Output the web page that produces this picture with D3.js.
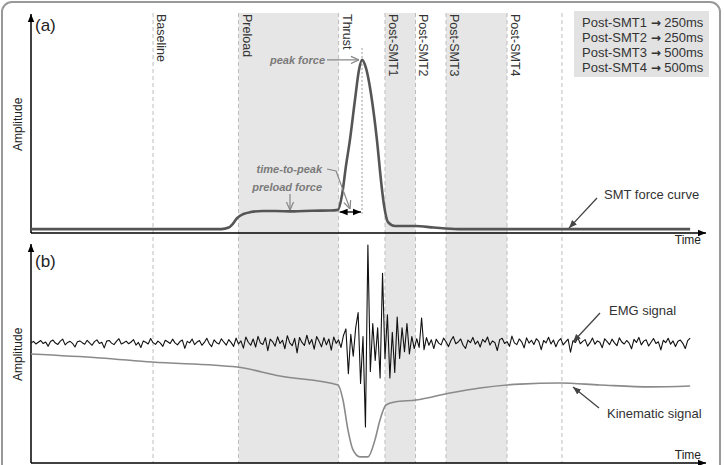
<!DOCTYPE html>
<html>
<head>
<meta charset="utf-8">
<script src="https://cdn.jsdelivr.net/npm/d3@7"></script>
<style>
  body { margin: 0; background: #fff; }
  svg { display: block; font-family: "Liberation Sans", Arial, sans-serif; }
</style>
</head>
<body>
<svg id="chart"></svg>
<script>
const width = 724, height = 465;

// phases of the trial, start time in ms
const phaseNames = ["Baseline", "Preload", "Thrust", "Post-SMT1", "Post-SMT2", "Post-SMT3", "Post-SMT4"];
const phaseStart = [1000, 1700, 2520, 2900, 3150, 3400, 3900];
const phaseEnd = 4350;
const shadedPhases = ["Preload", "Post-SMT1", "Post-SMT3"];

const legendNames = ["Post-SMT1", "Post-SMT2", "Post-SMT3", "Post-SMT4"];
const legendDurations = ["250ms", "250ms", "500ms", "500ms"];

// (a) SMT force curve
const forceTime  = [0, 1560, 1620, 1650, 1690, 1740, 1800, 1900, 2000, 2150, 2300, 2450, 2515, 2548, 2581, 2613, 2654, 2687, 2712, 2744, 2793, 2834, 2867, 2892, 2925, 2982, 3150, 3300, 3500, 5400];
const forceValue = [1.8, 1.8, 2.5, 4, 6.9, 8.7, 9.6, 10.1, 10.1, 9.9, 10.2, 10.3, 10.6, 17.4, 31, 42.7, 61, 74.8, 79.4, 75.7, 61, 42.7, 24.3, 12.8, 5, 3.2, 3.2, 2.5, 1.8, 1.8];
const peakTime = 2712, peakValue = 79.4, preloadValue = 10.1;

// (b) kinematic signal
const kinTime  = [0, 565, 991, 1688, 2040, 2515, 2556, 2597, 2638, 2695, 2761, 2818, 2859, 2908, 2982, 3154, 3432, 3678, 4006, 4334, 4661, 5071, 5400];
const kinValue = [50, 48.2, 46.3, 44, 39.9, 35.8, 28.9, 15.1, 6, 2.8, 2.8, 10.6, 19.7, 26.6, 28, 28.9, 32.1, 34.4, 36.2, 36.7, 35.8, 34.9, 35.3];

// (b) EMG signal, one sample every 20 ms
const emgStep = 20;
const emgValue = [
  55,55.8,54.6,55.4,56.2,54.8,55.5,53.6,55.7,56.4,55,54.4,55.9,56.8,54.2,55.3,55.8,54.9,53.2,55.6,
  56,55.2,54.5,56.3,55.1,54,55.7,56.5,54.8,55.4,52.8,55.9,56.2,55,54.3,55.8,57,54.6,55.2,55.9,
  54.7,55.5,56.6,54.1,55.3,53,56,55.4,54.6,57.1,55.2,54.4,55.9,55,53.5,56.3,55.6,54.8,56.8,55.1,
  54.2,55.7,56.4,52.6,55.8,55.1,56.9,54.3,55.5,56.2,54,55.3,57.2,54.8,53.4,56.5,55.2,54.6,57,55.4,
  54.1,56.6,55.2,53.5,57.3,54.6,56,52.7,57.8,55.4,54,56.9,53.2,58.1,55,54.4,57.5,51.5,56.8,55.6,
  53.6,57.9,54.8,56.3,52.4,58.4,55.1,53.8,57.2,50.5,57.6,55.3,53.9,58.6,54.5,56.7,52.2,58,55.8,53.3,
  57.5,54.2,56.9,51.8,57.8,54.9,
  56.5,53,58.5,61.5,41,59,49,62,69,36.5,58,16.5,100,42,64,47,62,39,87,48,
  68,39,60,41.5,67,48,62,51,64,50,58,52.5,57,53,66.5,52,57.5,54,56.5,52.5,
  56.8,55,54.2,57.3,55.6,53.4,56.2,58,54.7,55.5,56.9,54,52.6,56.4,55.2,57.6,54.5,55.9,53.2,56.7,
  55.4,57.8,54.1,56,55.3,51.6,56.6,57.2,54.8,55.7,53.5,58.2,55.1,54.3,56.9,55.6,52.8,57.4,55,56.3,
  54.4,57,55.8,52,56.2,55.1,57.7,54.6,56.4,53.3,55.9,57.1,54.2,55.6,56.8,50.8,56.1,55.3,57.5,54.7,
  55.8,56.6,53.6,55.2,57.3,54.5,56,55.4,52.9,57,55.7,54.3,56.8,55.1,53.8,57.4,55.5,54.6,56.2,55,
  52.4,56.7,55.3,57.6,54.2,55.9,56.5,53.7,55.4,57.1,54.8,55.6,51.9,56.3,55.2,57.2,54.5,56,53.4,55.8,
  56.4,54.9,52.5,56.1,57.3
];

const svg = d3.select("#chart").attr("width", width).attr("height", height);

const x = d3.scaleLinear().domain([0, 5530]).range([31, 706]);
const yA = d3.scaleLinear().domain([0, 100]).range([233, 15]);
const yB = d3.scaleLinear().domain([0, 100]).range([463, 245]);
const yTop = 13, yBottom = 463;

// arrow markers
const defs = svg.append("defs");
function marker(id, color, open, size) {
  const m = defs.append("marker")
    .attr("id", id)
    .attr("viewBox", "0 0 10 10")
    .attr("refX", 10).attr("refY", 5)
    .attr("markerUnits", "userSpaceOnUse")
    .attr("markerWidth", size).attr("markerHeight", size)
    .attr("orient", "auto-start-reverse");
  if (open) {
    m.append("path").attr("d", "M1,1 L10,5 L1,9").attr("fill", "none").attr("stroke", color).attr("stroke-width", 1.4);
  } else {
    m.append("path").attr("d", "M0,1 L10,5 L0,9 z").attr("fill", color);
  }
}
marker("axisHead", "#000", false, 8);
marker("greyHead", "#888", true, 9);
marker("darkHead", "#444", false, 8);
marker("blackHead", "#000", false, 8);

// shaded phases
const phaseEnds = phaseStart.slice(1).concat([phaseEnd]);
svg.selectAll("rect.phase")
  .data(phaseNames.map((n, i) => ({name: n, t0: phaseStart[i], t1: phaseEnds[i]})).filter(d => shadedPhases.includes(d.name)))
  .enter().append("rect")
  .attr("class", "phase")
  .attr("x", d => x(d.t0))
  .attr("y", yTop)
  .attr("width", d => x(d.t1) - x(d.t0))
  .attr("height", yBottom - yTop)
  .attr("fill", "#e6e6e6");

// dashed phase boundaries
svg.selectAll("line.bound")
  .data(phaseStart.concat([phaseEnd]))
  .enter().append("line")
  .attr("class", "bound")
  .attr("x1", d => x(d)).attr("x2", d => x(d))
  .attr("y1", yTop).attr("y2", yBottom)
  .attr("stroke", "#bdbdbd")
  .attr("stroke-width", 1)
  .attr("stroke-dasharray", "4,3");

// phase labels
svg.selectAll("text.phase")
  .data(phaseNames)
  .enter().append("text")
  .attr("class", "phase")
  .attr("transform", (d, i) => `translate(${x(phaseStart[i]) + 4},${yTop + 1}) rotate(90)`)
  .attr("font-size", "12.5px")
  .attr("fill", "#333")
  .text(d => d);

// peak dotted line
svg.append("line")
  .attr("x1", x(peakTime)).attr("x2", x(peakTime))
  .attr("y1", yA(peakValue) - 12).attr("y2", yA(preloadValue) + 3)
  .attr("stroke", "#999")
  .attr("stroke-dasharray", "2,2");

// axes
function axes(y, tipTop) {
  svg.append("line")
    .attr("x1", x(0)).attr("x2", x(0))
    .attr("y1", y(0)).attr("y2", tipTop)
    .attr("stroke", "#000").attr("stroke-width", 1.5)
    .attr("marker-end", "url(#axisHead)");
  svg.append("line")
    .attr("x1", x(0)).attr("x2", x.range()[1])
    .attr("y1", y(0)).attr("y2", y(0))
    .attr("stroke", "#000").attr("stroke-width", 1.5)
    .attr("marker-end", "url(#axisHead)");
}
axes(yA, 14);
axes(yB, 244);

// force curve
const forceLine = d3.line().x(d => x(d[0])).y(d => yA(d[1])).curve(d3.curveMonotoneX);
svg.append("path")
  .datum(forceTime.map((t, i) => [t, forceValue[i]]))
  .attr("d", forceLine)
  .attr("fill", "none")
  .attr("stroke", "#555")
  .attr("stroke-width", 2.6);

// kinematic signal
const kinLine = d3.line().x(d => x(d[0])).y(d => yB(d[1])).curve(d3.curveMonotoneX);
svg.append("path")
  .datum(kinTime.map((t, i) => [t, kinValue[i]]))
  .attr("d", kinLine)
  .attr("fill", "none")
  .attr("stroke", "#8a8a8a")
  .attr("stroke-width", 1.6);

// EMG signal
const emgLine = d3.line().x((d, i) => x(i * emgStep)).y(d => yB(d));
svg.append("path")
  .datum(emgValue)
  .attr("d", emgLine)
  .attr("fill", "none")
  .attr("stroke", "#111")
  .attr("stroke-width", 1.1)
  .attr("stroke-linejoin", "round");

// panel labels
svg.append("text").attr("x", 35).attr("y", 31).attr("font-size", "17px").attr("fill", "#222").text("(a)");
svg.append("text").attr("x", 35).attr("y", 267).attr("font-size", "17px").attr("fill", "#222").text("(b)");
svg.append("text").attr("transform", "translate(22,151) rotate(-90)").attr("font-size", "12px").attr("fill", "#222").text("Amplitude");
svg.append("text").attr("transform", "translate(22,381) rotate(-90)").attr("font-size", "12px").attr("fill", "#222").text("Amplitude");
svg.append("text").attr("x", 701).attr("y", 244).attr("text-anchor", "end").attr("font-size", "12px").attr("fill", "#222").text("Time");
svg.append("text").attr("x", 701).attr("y", 459).attr("text-anchor", "end").attr("font-size", "12px").attr("fill", "#222").text("Time");

// annotations in (a)
const px = x(peakTime), py = yA(peakValue), ply = yA(preloadValue);
const note = g => g.attr("font-size", "11px").attr("font-style", "italic").attr("font-weight", "bold").attr("fill", "#7a7a7a").attr("text-anchor", "end");
svg.append("text").attr("x", px - 37).attr("y", py + 4).call(note).text("peak force");
svg.append("line").attr("x1", px - 35).attr("x2", px - 3).attr("y1", py).attr("y2", py)
  .attr("stroke", "#888").attr("stroke-width", 1.2).attr("marker-end", "url(#greyHead)");

svg.append("text").attr("x", px - 40).attr("y", 173).call(note).text("time-to-peak");
svg.append("path").attr("d", `M${px - 35},169 L${px - 26},171 L${px - 12},${ply - 2}`)
  .attr("fill", "none").attr("stroke", "#888").attr("stroke-width", 1.2).attr("marker-end", "url(#greyHead)");

svg.append("text").attr("x", px - 40).attr("y", 191).call(note).text("preload force");
svg.append("line").attr("x1", 290).attr("x2", 290).attr("y1", 194).attr("y2", ply - 1)
  .attr("stroke", "#888").attr("stroke-width", 1.2).attr("marker-end", "url(#greyHead)");

svg.append("line")
  .attr("x1", x(phaseStart[2]) + 1).attr("x2", px - 1)
  .attr("y1", ply + 1).attr("y2", ply + 1)
  .attr("stroke", "#000").attr("stroke-width", 1.3)
  .attr("marker-start", "url(#blackHead)").attr("marker-end", "url(#blackHead)");

// signal labels
const labels = [
  {text: "SMT force curve", tx: 604, ty: 199, from: [597, 198], to: [569, yA(1.8) - 1]},
  {text: "EMG signal", tx: 609, ty: 315, from: [600, 313], to: [573, 342]},
  {text: "Kinematic signal", tx: 607, ty: 418, from: [599, 408], to: [573, 387]}
];
labels.forEach(d => {
  svg.append("text").attr("x", d.tx).attr("y", d.ty).attr("font-size", "13px").attr("fill", "#333").text(d.text);
  svg.append("line")
    .attr("x1", d.from[0]).attr("y1", d.from[1]).attr("x2", d.to[0]).attr("y2", d.to[1])
    .attr("stroke", "#444").attr("stroke-width", 1.3).attr("marker-end", "url(#darkHead)");
});

// legend box
svg.append("rect").attr("x", 574).attr("y", 11).attr("width", 135).attr("height", 66).attr("fill", "#e2e2e2");
const legendText = svg.selectAll("text.legend")
  .data(legendNames)
  .enter().append("text")
  .attr("class", "legend")
  .attr("x", 582)
  .attr("y", (d, i) => 27 + i * 15)
  .attr("font-size", "13px")
  .attr("fill", "#333");
legendText.append("tspan").text(d => d + " ");
legendText.append("tspan").attr("font-family", "DejaVu Sans").attr("font-weight", "bold").attr("font-size", "12px").text("\u2192");
legendText.append("tspan").text((d, i) => " " + legendDurations[i]);

// frame
svg.append("rect")
  .attr("x", 2).attr("y", 2).attr("width", 718).attr("height", 475)
  .attr("rx", 10)
  .attr("fill", "none").attr("stroke", "#999").attr("stroke-width", 2);
</script>
</body>
</html>
